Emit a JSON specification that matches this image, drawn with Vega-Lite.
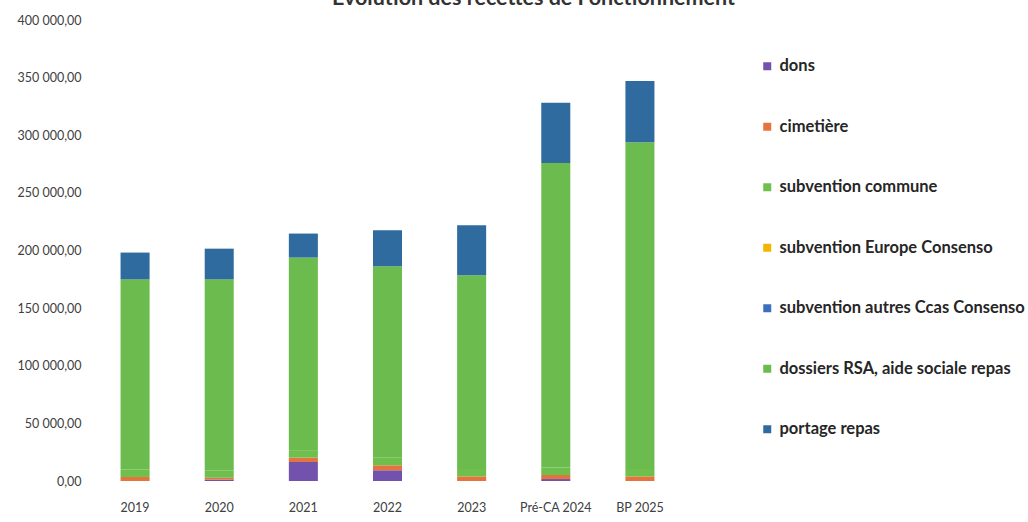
{
  "$schema": "https://vega.github.io/schema/vega-lite/v6.json",
  "autosize": {"type": "none"},
  "padding": {"left": 93, "top": 20, "right": 346, "bottom": 41},
  "width": 589,
  "height": 461,
  "background": "white",
  "config": {
    "locale": {"number": {"decimal": ",", "thousands": " ", "grouping": [3], "currency": ["", " €"]}},
    "view": {"stroke": null},
    "font": "Lato"
  },
  "title": {
    "text": "Évolution des recettes de Fonctionnement",
    "font": "Lato",
    "fontSize": 21.5,
    "fontWeight": "bold",
    "color": "#333333",
    "anchor": "middle",
    "baseline": "alphabetic",
    "offset": 0,
    "dx": 146,
    "dy": 12
  },
  "data": {
    "values": [
      {"annee": "2019", "poste": "dons", "montant": 0},
      {"annee": "2019", "poste": "cimetière", "montant": 3500},
      {"annee": "2019", "poste": "subvention commune", "montant": 6500},
      {"annee": "2019", "poste": "dossiers RSA, aide sociale repas", "montant": 165000},
      {"annee": "2019", "poste": "portage repas", "montant": 23200},
      {"annee": "2020", "poste": "dons", "montant": 1300},
      {"annee": "2020", "poste": "cimetière", "montant": 1500},
      {"annee": "2020", "poste": "subvention commune", "montant": 6500},
      {"annee": "2020", "poste": "dossiers RSA, aide sociale repas", "montant": 165700},
      {"annee": "2020", "poste": "portage repas", "montant": 26600},
      {"annee": "2021", "poste": "dons", "montant": 16500},
      {"annee": "2021", "poste": "cimetière", "montant": 3800},
      {"annee": "2021", "poste": "subvention commune", "montant": 6500},
      {"annee": "2021", "poste": "dossiers RSA, aide sociale repas", "montant": 167100},
      {"annee": "2021", "poste": "portage repas", "montant": 20800},
      {"annee": "2022", "poste": "dons", "montant": 9300},
      {"annee": "2022", "poste": "cimetière", "montant": 4300},
      {"annee": "2022", "poste": "subvention commune", "montant": 6500},
      {"annee": "2022", "poste": "dossiers RSA, aide sociale repas", "montant": 166200},
      {"annee": "2022", "poste": "portage repas", "montant": 31200},
      {"annee": "2023", "poste": "dons", "montant": 0},
      {"annee": "2023", "poste": "cimetière", "montant": 4000},
      {"annee": "2023", "poste": "subvention commune", "montant": 6500},
      {"annee": "2023", "poste": "dossiers RSA, aide sociale repas", "montant": 168000},
      {"annee": "2023", "poste": "portage repas", "montant": 43400},
      {"annee": "Pré-CA 2024", "poste": "dons", "montant": 1700},
      {"annee": "Pré-CA 2024", "poste": "cimetière", "montant": 3500},
      {"annee": "Pré-CA 2024", "poste": "subvention commune", "montant": 6500},
      {"annee": "Pré-CA 2024", "poste": "dossiers RSA, aide sociale repas", "montant": 264300},
      {"annee": "Pré-CA 2024", "poste": "portage repas", "montant": 52100},
      {"annee": "BP 2025", "poste": "dons", "montant": 0},
      {"annee": "BP 2025", "poste": "cimetière", "montant": 4000},
      {"annee": "BP 2025", "poste": "subvention commune", "montant": 6500},
      {"annee": "BP 2025", "poste": "dossiers RSA, aide sociale repas", "montant": 283500},
      {"annee": "BP 2025", "poste": "portage repas", "montant": 53000}
    ]
  },
  "transform": [
    {"calculate": "indexof(['dons', 'cimetière', 'subvention commune', 'subvention Europe Consenso', 'subvention autres Ccas Consenso', 'dossiers RSA, aide sociale repas', 'portage repas'], datum.poste)", "as": "ordre"}
  ],
  "mark": {"type": "bar"},
  "encoding": {
    "x": {
      "field": "annee",
      "type": "nominal",
      "sort": ["2019", "2020", "2021", "2022", "2023", "Pré-CA 2024", "BP 2025"],
      "scale": {"paddingInner": 0.655, "paddingOuter": 0.3275},
      "axis": {
        "title": null,
        "labelAngle": 0,
        "domain": false,
        "ticks": false,
        "labelPadding": 20,
        "labelFont": "Lato",
        "labelFontSize": 12.5,
        "labelColor": "#404040"
      }
    },
    "y": {
      "field": "montant",
      "type": "quantitative",
      "stack": "zero",
      "scale": {"domain": [0, 400000], "nice": false},
      "axis": {
        "title": null,
        "values": [0, 50000, 100000, 150000, 200000, 250000, 300000, 350000, 400000],
        "format": ",.2f",
        "domain": false,
        "ticks": false,
        "grid": false,
        "labelPadding": 12,
        "labelFont": "Lato",
        "labelFontSize": 12.5,
        "labelColor": "#404040"
      }
    },
    "order": {"field": "ordre", "type": "quantitative", "sort": "ascending"},
    "color": {
      "field": "poste",
      "type": "nominal",
      "sort": ["dons", "cimetière", "subvention commune", "subvention Europe Consenso", "subvention autres Ccas Consenso", "dossiers RSA, aide sociale repas", "portage repas"],
      "scale": {
        "domain": ["dons", "cimetière", "subvention commune", "subvention Europe Consenso", "subvention autres Ccas Consenso", "dossiers RSA, aide sociale repas", "portage repas"],
        "range": ["#7352ad", "#e5733d", "#6fbf4c", "#f2b600", "#3c70bf", "#6cbb4e", "#2f6b9f"]
      },
      "legend": {
        "title": null,
        "orient": "none",
        "legendX": 666,
        "legendY": 38,
        "symbolType": "square",
        "symbolSize": 64,
        "symbolStrokeWidth": 0,
        "labelFont": "Lato",
        "labelFontSize": 16.5,
        "labelFontWeight": "bold",
        "labelColor": "#262626",
        "labelOffset": 4,
        "rowPadding": 43.5,
        "labelLimit": 400
      }
    }
  }
}
